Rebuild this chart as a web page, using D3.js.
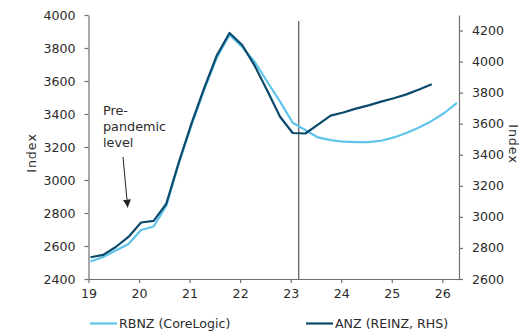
<!DOCTYPE html>
<html>
<head>
<meta charset="utf-8">
<script src="https://cdn.jsdelivr.net/npm/d3@7"></script>
<style>
  html, body { margin: 0; padding: 0; background: #fff; }
  svg { display: block; font-family: "DejaVu Sans", Verdana, sans-serif; }
</style>
</head>
<body>
<svg id="chart" width="526" height="332"></svg>
<script>
// Quarterly observations, in years since 2000 (mid-month of each quarter start)
const dates = [19.04, 19.29, 19.54, 19.79, 20.04, 20.29, 20.54, 20.79,
               21.04, 21.29, 21.54, 21.79, 22.04, 22.29, 22.54, 22.79,
               23.04, 23.29, 23.54, 23.79, 24.04, 24.29, 24.54, 24.79,
               25.04, 25.29, 25.54, 25.79, 26.04, 26.29];

// RBNZ (CoreLogic) house price index, left axis
const rbnz = [2506, 2533, 2573, 2612, 2697, 2718, 2845, 3103,
              3336, 3548, 3742, 3879, 3806, 3715, 3594, 3475,
              3347, 3303, 3258, 3242, 3232, 3230, 3230, 3238,
              3258, 3285, 3318, 3358, 3406, 3467];

// ANZ (REINZ) house price index, right axis
const anz = [2740, 2755, 2806, 2871, 2964, 2974, 3086, 3355,
             3604, 3831, 4041, 4184, 4107, 3972, 3811, 3645,
             3540, 3537, 3594, 3652, 3672, 3697, 3718, 3742,
             3764, 3789, 3820, 3854];

const xTicks = [19, 20, 21, 22, 23, 24, 25, 26];
const leftTicks = [2400, 2600, 2800, 3000, 3200, 3400, 3600, 3800, 4000];
const rightTicks = [2600, 2800, 3000, 3200, 3400, 3600, 3800, 4000, 4200];
const forecastStart = 23.16;

const seriesNames = ["RBNZ (CoreLogic)", "ANZ (REINZ, RHS)"];
const colors = { rbnz: "#5ec4ea", anz: "#0b4a6c" };

const svg = d3.select("#chart");
const plot = { left: 88.5, right: 459, top: 15, bottom: 279 };

const x = d3.scaleLinear().domain([19, 26.33]).range([plot.left, plot.right]);
const yL = d3.scaleLinear().domain([2400, 4000]).range([plot.bottom, plot.top]);
const yR = d3.scaleLinear().domain([2600, 4300]).range([plot.bottom, plot.top]);

const fontSize = 12.6;
const textColor = "#2b2b2b";
const axisColor = "#707070";

function styleAxis(g) {
  g.selectAll(".domain").attr("stroke", axisColor).attr("stroke-width", 1.2);
  g.selectAll(".tick line").attr("stroke", axisColor).attr("stroke-width", 1.2);
  g.selectAll(".tick text").attr("fill", textColor).style("font-size", fontSize + "px")
    .style("font-family", "'DejaVu Sans', Verdana, sans-serif");
}

// Left axis
svg.append("g")
  .attr("transform", `translate(${plot.left},0)`)
  .call(d3.axisLeft(yL).tickValues(leftTicks).tickSize(4).tickSizeOuter(0).tickPadding(9)
    .tickFormat(d3.format("d")))
  .call(styleAxis);

// Right axis
svg.append("g")
  .attr("transform", `translate(${plot.right},0)`)
  .call(d3.axisRight(yR).tickValues(rightTicks).tickSize(4).tickSizeOuter(0).tickPadding(9)
    .tickFormat(d3.format("d")))
  .call(styleAxis);

// Bottom axis
svg.append("g")
  .attr("transform", `translate(0,${plot.bottom})`)
  .call(d3.axisBottom(x).tickValues(xTicks).tickSize(4).tickSizeOuter(0).tickPadding(6)
    .tickFormat(d3.format("d")))
  .call(styleAxis);

// Axis titles
svg.append("text")
  .attr("transform", "translate(36,153) rotate(-90)")
  .attr("text-anchor", "middle")
  .attr("fill", textColor)
  .style("font-size", "12.6px")
  .style("letter-spacing", "1px")
  .text("Index");

svg.append("text")
  .attr("transform", "translate(509,144) rotate(90)")
  .attr("text-anchor", "middle")
  .attr("fill", textColor)
  .style("font-size", "12.6px")
  .style("letter-spacing", "1px")
  .text("Index");

// Forecast divider
svg.append("line")
  .attr("x1", x(forecastStart)).attr("x2", x(forecastStart))
  .attr("y1", 21).attr("y2", plot.bottom)
  .attr("stroke", "#333").attr("stroke-width", 1);

// Series lines
const lineL = d3.line().x((d, i) => x(dates[i])).y(d => yL(d));
const lineR = d3.line().x((d, i) => x(dates[i])).y(d => yR(d));

svg.append("path")
  .datum(rbnz)
  .attr("d", lineL)
  .attr("fill", "none")
  .attr("stroke", colors.rbnz)
  .attr("stroke-width", 2.2)
  .attr("stroke-linejoin", "round");

svg.append("path")
  .datum(anz)
  .attr("d", lineR)
  .attr("fill", "none")
  .attr("stroke", colors.anz)
  .attr("stroke-width", 2.2)
  .attr("stroke-linejoin", "round");

// Pre-pandemic annotation
const note = svg.append("text")
  .attr("fill", textColor)
  .style("font-size", "12.8px");
["Pre-", "pandemic", "level"].forEach((t, i) => {
  note.append("tspan").attr("x", 103).attr("y", 115 + i * 16).text(t);
});

svg.append("defs").append("marker")
  .attr("id", "arrowhead")
  .attr("viewBox", "0 0 10 10")
  .attr("refX", 10).attr("refY", 5)
  .attr("markerWidth", 8).attr("markerHeight", 8)
  .attr("markerUnits", "userSpaceOnUse")
  .attr("orient", "auto")
  .append("path")
  .attr("d", "M0,0 L10,5 L0,10 Z")
  .attr("fill", "#222");

svg.append("line")
  .attr("x1", 123).attr("y1", 157)
  .attr("x2", 127.7).attr("y2", 207.5)
  .attr("stroke", "#222").attr("stroke-width", 1)
  .attr("marker-end", "url(#arrowhead)");

// Legend
const legend = [
  { name: seriesNames[0], color: colors.rbnz, x0: 90 },
  { name: seriesNames[1], color: colors.anz, x0: 306 }
];
legend.forEach(l => {
  svg.append("line")
    .attr("x1", l.x0).attr("x2", l.x0 + 27)
    .attr("y1", 323.5).attr("y2", 323.5)
    .attr("stroke", l.color).attr("stroke-width", 2.2);
  svg.append("text")
    .attr("x", l.x0 + 29).attr("y", 323.5)
    .attr("dy", "0.35em")
    .attr("fill", textColor)
    .style("font-size", "12.6px")
    .text(l.name);
});
</script>
</body>
</html>
